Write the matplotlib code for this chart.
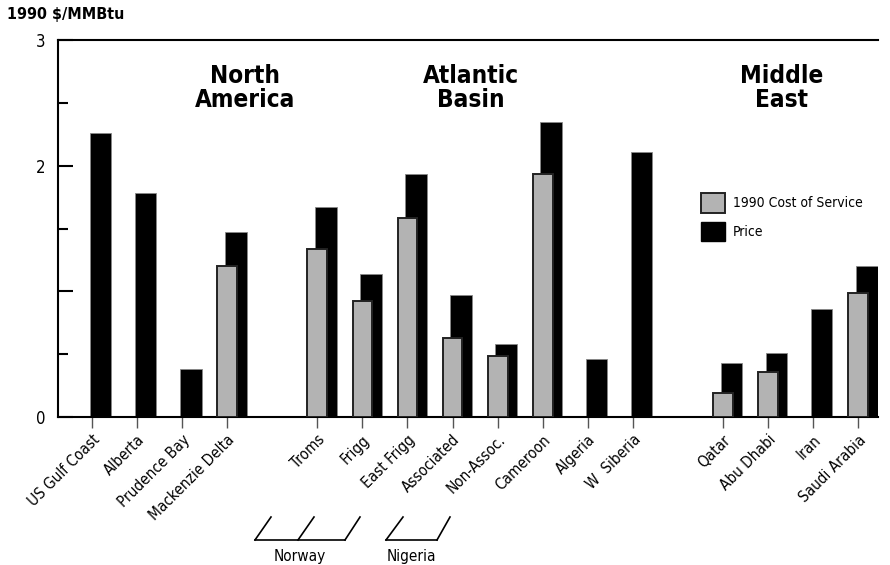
import matplotlib
matplotlib.use("Agg")
import matplotlib.pyplot as plt
from matplotlib.patches import Patch
from matplotlib.lines import Line2D

plt.rcParams['font.family'] = ['DejaVu Sans']
plt.rcParams['font.stretch'] = 'condensed'

categories = ["US Gulf Coast", "Alberta", "Prudence Bay", "Mackenzie Delta",
              "Troms", "Frigg", "East Frigg", "Associated", "Non-Assoc.",
              "Cameroon", "Algeria", "W  Siberia",
              "Qatar", "Abu Dhabi", "Iran", "Saudi Arabia"]
positions = [0, 1, 2, 3, 5, 6, 7, 8, 9, 10, 11, 12, 14, 15, 16, 17]
cost = [None, None, None, 1.20, 1.34, 0.925, 1.58, 0.63, 0.485, 1.93, None, None,
        0.19, 0.355, None, 0.99]
price = [2.26, 1.78, 0.38, 1.47, 1.67, 1.135, 1.93, 0.97, 0.58, 2.35, 0.46, 2.11,
         0.43, 0.51, 0.86, 1.20]
regions = ["North\nAmerica", "Atlantic\nBasin", "Middle\nEast"]
region_x = [3.4, 8.4, 15.3]

fig = plt.figure(figsize=(8.9, 5.65), dpi=100)
ax = fig.add_axes([58/890, 1-417/565, 820/890, 377/565])

gray = '#b3b3b3'
for p, c, v in zip(positions, cost, price):
    ax.bar(p - 0.05, v, width=0.48, align='edge', color='black',
           edgecolor='#888888', linewidth=0.6, zorder=2)
    if c is not None:
        ax.bar(p, c, width=0.44, align='center', color=gray,
               edgecolor='#222222', linewidth=1.4, zorder=3)

ax.set_xlim(-0.755, 17.44)
ax.set_ylim(0, 3)

ax.spines['right'].set_visible(False)
for s in ['left', 'top', 'bottom']:
    ax.spines[s].set_linewidth(1.5)
    ax.spines[s].set_color('black')

ax.set_yticks([0, 1, 2, 3])
ax.set_yticklabels(['0', '', '2', '3'], fontsize=12)
ax.set_yticks([0.5, 1.5, 2.5], minor=True)
ax.tick_params(axis='y', which='major', direction='in', length=11, width=1.5, pad=9)
ax.tick_params(axis='y', which='minor', direction='in', length=7, width=1.5)

ax.set_xticks(positions)
ax.set_xticklabels(categories, rotation=45, ha='right', rotation_mode='anchor', fontsize=11)
ax.tick_params(axis='x', which='major', direction='out', length=8, width=1.0,
               color='#555555', pad=3)

for t, x in zip(regions, region_x):
    ax.text(x, 2.62, t, ha='center', va='center', fontsize=17.5, fontweight='bold',
            linespacing=1.0)

fig.text(7/890, 1-14/565, "1990 $/MMBtu", fontsize=11.5, fontweight='bold',
         ha='left', va='center')

handles = [Patch(facecolor=gray, edgecolor='#222222', linewidth=1.4, label='1990 Cost of Service'),
           Patch(facecolor='black', edgecolor='black', label='Price')]
ax.legend(handles=handles, loc='upper left', bbox_to_anchor=((701-58)/820, (417-193)/377),
          frameon=False, fontsize=10, handlelength=1.7, handleheight=1.8,
          handletextpad=0.6, labelspacing=0.65, borderpad=0, borderaxespad=0)

def px(x, y):
    return x/890, 1-y/565

lines = [
    [(255, 540), (345, 540)],
    [(255, 540), (271, 517)],
    [(298, 540), (314, 517)],
    [(345, 540), (360, 517)],
    [(386, 540), (437, 540)],
    [(386, 540), (403, 517)],
    [(437, 540), (450, 517)],
]
for seg in lines:
    (x0, y0), (x1, y1) = seg
    a = px(x0, y0); b = px(x1, y1)
    fig.add_artist(Line2D([a[0], b[0]], [a[1], b[1]], color='black', linewidth=1.2,
                          transform=fig.transFigure))
fig.text(300/890, 1-556/565, "Norway", ha='center', va='center', fontsize=11)
fig.text(411/890, 1-556/565, "Nigeria", ha='center', va='center', fontsize=11)

fig.savefig("out.png", dpi=100)
